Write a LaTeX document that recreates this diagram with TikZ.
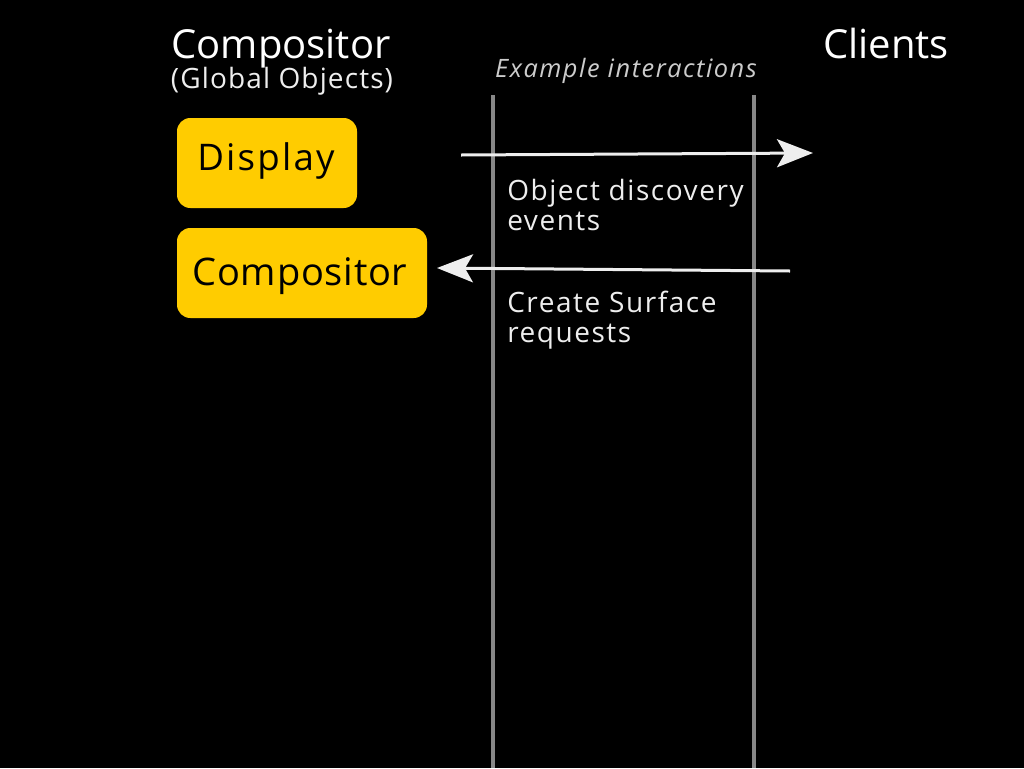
\documentclass[tikz,border=0pt]{standalone}
\usepackage{fontspec}
\setmainfont{Open Sans}
\newfontfamily\spacedA[LetterSpace=4]{Open Sans}
\newfontfamily\spacedB[LetterSpace=5.5]{Open Sans}
\newfontfamily\spacedC[LetterSpace=6]{Open Sans}
\newfontfamily\spacedD[LetterSpace=2]{Open Sans}
\usetikzlibrary{arrows.meta}
\definecolor{boxyellow}{HTML}{FFCC00}
\definecolor{lanegray}{HTML}{888888}
\definecolor{labelwhite}{HTML}{EEEEEE}
\definecolor{noteGray}{HTML}{CCCCCC}
\begin{document}
\begin{tikzpicture}[x=0.75pt,y=-0.75pt,
  title/.style={text=white,font=\fontsize{30}{34}\selectfont,inner sep=0pt,anchor=base},
  subtitle/.style={text=labelwhite,font=\spacedA\fontsize{21}{24}\selectfont,inner sep=0pt,anchor=base},
  note/.style={text=noteGray,font=\spacedC\itshape\fontsize{19}{22}\selectfont,inner sep=0pt,anchor=base},
  objbox/.style={fill=boxyellow,rounded corners=10pt},
  objtext/.style={text=black,inner sep=0pt,anchor=base},
  lane/.style={draw=lanegray,line width=3pt},
  msg/.style={draw=labelwhite,line width=2.25pt,-{Stealth[length=27pt,width=21pt,inset=6pt]}},
  msglabel/.style={text=labelwhite,font=\spacedB\fontsize{21}{22.5}\selectfont,align=left,inner sep=0pt,anchor=base west}]
\fill[black] (0,0) rectangle (1024,768);
\useasboundingbox (0,0) rectangle (1024,768);

\node[title] (comptitle) at (281,58) {Compositor};
\node[subtitle] (globtitle) at (282,88) {(Global Objects)};
\node[title] (clients) at (886,58) {Clients};
\node[note] (example) at (626,77) {Example interactions};

\coordinate (lane1top) at (493,95);
\coordinate (lane1bot) at (493,768);
\coordinate (lane2top) at (754,95);
\coordinate (lane2bot) at (754,768);
\draw[lane] (lane1top) -- (lane1bot);
\draw[lane] (lane2top) -- (lane2bot);

\path[objbox] (177,118) rectangle (357,208);
\node[objtext,font=\spacedC\fontsize{27.5}{30}\selectfont] (display) at (266,170) {Display};
\path[objbox] (177,228) rectangle (427,318);
\node[objtext,font=\spacedD\fontsize{28.5}{30}\selectfont] (compositor) at (300,285) {Compositor};

\coordinate (m1start) at (461,155);
\coordinate (m1end) at (813,153);
\coordinate (m2start) at (790,271);
\coordinate (m2end) at (437,268);
\draw[msg] (m1start) -- (m1end);
\draw[msg] (m2start) -- (m2end);

\node[msglabel] (lbl1) at (507,230) {Object discovery\\events};
\node[msglabel] (lbl2) at (507,342) {Create Surface\\requests};
\end{tikzpicture}
\end{document}
